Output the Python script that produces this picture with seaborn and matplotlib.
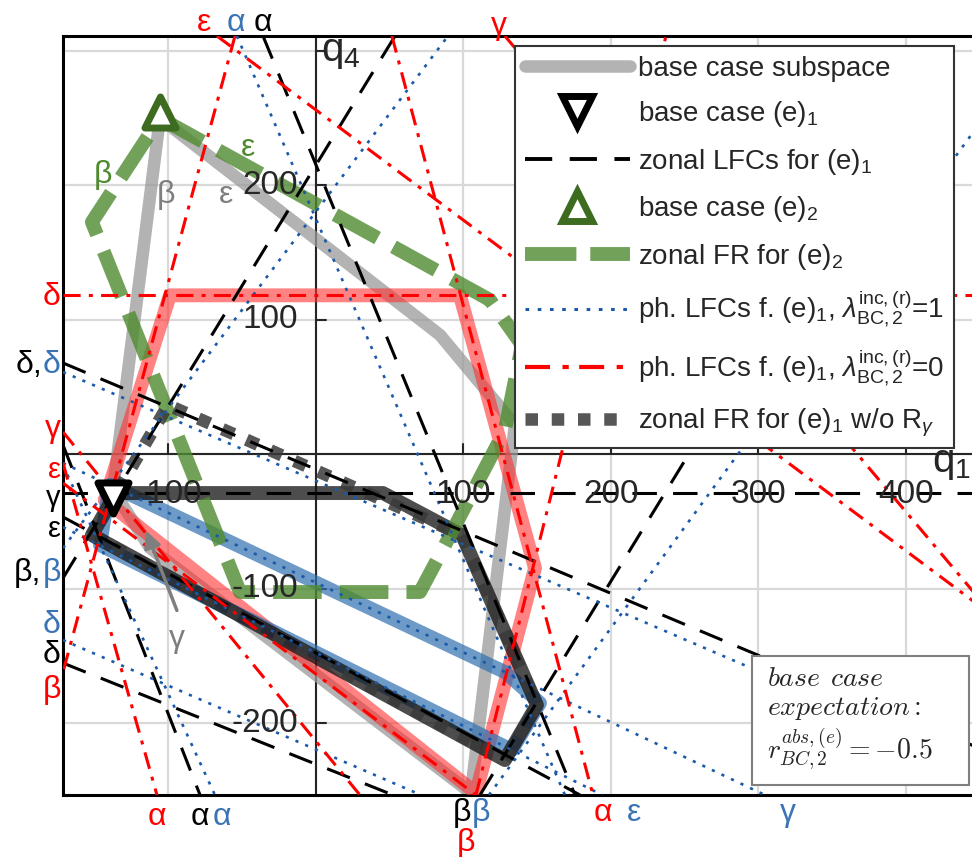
import matplotlib
matplotlib.use("Agg")
import matplotlib.pyplot as plt
import seaborn as sns
from matplotlib.lines import Line2D
from matplotlib.patches import Rectangle

sns.set_theme(style="white")
plt.rcParams["font.family"] = ["Liberation Sans", "DejaVu Sans"]
plt.rcParams["mathtext.fontset"] = "custom"
plt.rcParams["mathtext.rm"] = "Liberation Sans"
plt.rcParams["mathtext.it"] = "Liberation Sans:italic"
plt.rcParams["mathtext.bf"] = "Liberation Sans:bold"

# plot range (q1 horizontal, q4 vertical)
q1_lim = (-171.5, 453.6)
q4_lim = (-253.5, 310.8)
q1_ticks = [-100, 100, 200, 300, 400]
q4_ticks = [-200, -100, 100, 200]

# base case points
base_case_e1 = (-137.6, -32.7)
base_case_e2 = (-105.8, 254.0)

# line segments (q1_a, q4_a, q1_b, q4_b)
zonal_lfcs = [
    (-35.9, 310.8, 175.6, -253.5),
    (-171.5, 6.7, -78.6, -253.5),
    (111.2, -253.5, 426.4, 310.8),
    (-171.5, -92.2, 53.6, 310.8),
    (-171.5, -29.0, 453.6, -29.0),
    (-171.5, 67.7, 453.6, -220.5),
    (-171.5, -155.4, 52.2, -253.5),
    (-171.5, -46.8, 179.0, -253.5),
]
ph_lfcs_lam1 = [
    (-53.6, 310.8, 168.8, -253.5),
    (-171.5, -8.2, -68.5, -253.5),
    (117.3, -253.5, 453.6, 251.3),
    (-171.5, -69.9, 89.5, 310.8),
    (-171.5, -6.7, 304.4, -253.5),
    (-171.5, 61.0, 453.6, -233.9),
    (-171.5, -138.3, 71.2, -253.5),
    (-171.5, -54.3, 194.2, -253.5),
]
ph_lfcs_lam0 = [
    (51.5, 310.8, 187.8, -253.5),
    (-171.5, -6.7, -107.8, -253.5),
    (-54.9, 310.8, -171.5, -162.1),
    (108.5, -253.5, 237.3, 310.8),
    (128.1, 310.8, 453.6, -112.7),
    (-171.5, 16.4, 29.8, -253.5),
    (-171.5, 118.0, 453.6, 118.0),
    (-67.1, 310.8, 453.6, -115.9),
    (-171.5, -21.6, 108.5, -253.5),
]

# feasible regions / subspace outlines
subspace_q1 = [-105.8, 84.1, 134.9, 105.1, -112.5, -137.6, -105.8]
subspace_q4 = [249.8, 88.5, 21.6, -252.0, -69.9, -26.8, 249.8]
red_fr_q1 = [-143.1, -99.0, 97.6, 148.5, 108.5, -143.1]
red_fr_q4 = [-34.2, 118.0, 118.0, -84.8, -252.0, -34.2]
blue_fr_q1 = [-139.7, 128.1, 151.9, 132.9, -146.4, -139.7]
blue_fr_q4 = [-23.0, -162.1, -185.1, -220.1, -67.7, -23.0]
black_fr_q1 = [-135.6, 45.4, 99.0, 149.8, 128.1, -151.9, -135.6]
black_fr_q4 = [-29.0, -29.0, -60.2, -186.6, -227.5, -60.2, -29.0]
no_rgamma_q1 = [-151.9, -100.3, 99.0, 149.8, 128.1, -151.9]
no_rgamma_q4 = [-60.2, 36.4, -60.2, -186.6, -227.5, -60.2]
green_fr_q1 = [-105.8, 118.0, 139.7, 128.1, 87.5, 70.5, -51.5, -151.9, -105.8]
green_fr_q4 = [249.8, 114.5, 81.0, 17.8, -67.7, -102.6, -102.6, 172.5, 249.8]

RED = "#ff0000"
BLUE_LINE = "#1a5aa8"
BLUE_TXT = "#3a74b5"
GREEN = "#4f8a2f"
GREEN_DARK = "#3d6b1f"
GREY = "#9a9a9a"

# edge labels (text, color, q1, q4, ha, size)
edge_labels = [
    ("ε", RED, -75.9, 320.7, "center", 23),
    ("α", BLUE_TXT, -54.2, 320.7, "center", 23),
    ("α", "black", -35.9, 320.7, "center", 23),
    ("γ", RED, 124.1, 318.5, "center", 23),
    ("δ", RED, -172.9, 116.7, "right", 23),
    ("δ", BLUE_TXT, -172.9, 66.2, "right", 23),
    ("δ,", "black", -185.5, 66.2, "right", 23),
    ("γ", RED, -172.9, 18.5, "right", 23),
    ("ε", RED, -172.9, -12.0, "right", 21),
    ("γ", "black", -172.9, -33.0, "right", 21),
    ("ε", "black", -172.9, -56.0, "right", 21),
    ("β", BLUE_TXT, -172.9, -88.5, "right", 23),
    ("β,", "black", -186.5, -88.5, "right", 23),
    ("δ", BLUE_TXT, -172.9, -127.1, "right", 23),
    ("δ", "black", -172.9, -149.4, "right", 23),
    ("β", RED, -172.9, -175.5, "right", 23),
    ("α", RED, -107.8, -269.9, "center", 23),
    ("α", "black", -78.6, -269.9, "center", 23),
    ("α", BLUE_TXT, -63.7, -269.9, "center", 23),
    ("β", "black", 99.0, -266.9, "center", 23),
    ("β", BLUE_TXT, 111.9, -266.9, "center", 23),
    ("β", RED, 101.7, -289.0, "center", 23),
    ("α", RED, 194.6, -266.9, "center", 23),
    ("ε", BLUE_TXT, 215.6, -266.9, "center", 23),
    ("γ", BLUE_TXT, 320.0, -266.9, "center", 23),
    ("β", GREEN, -144.4, 207.4, "center", 23),
    ("β", "#7f7f7f", -101.7, 192.6, "center", 23),
    ("ε", GREEN, -46.1, 227.5, "center", 23),
    ("ε", "#7f7f7f", -61.0, 192.6, "center", 23),
    ("γ", "#7f7f7f", -94.2, -137.5, "center", 23),
]

fig = plt.figure(figsize=(9.72, 8.57), dpi=100)
ax = fig.add_axes([63 / 972, 62 / 857, 922 / 972, 759 / 857])


def draw_path(q1, q4, **kw):
    sns.lineplot(x=q1, y=q4, sort=False, estimator=None, ax=ax, legend=False, **kw)


# thick regions
draw_path(subspace_q1, subspace_q4, color=GREY, lw=9, alpha=0.75, zorder=2)
draw_path(red_fr_q1, red_fr_q4, color="#ff3030", lw=10, alpha=0.6, zorder=3)
draw_path(blue_fr_q1, blue_fr_q4, color="#2f6fb0", lw=10, alpha=0.7, zorder=3)
draw_path(black_fr_q1, black_fr_q4, color="#111111", lw=10, alpha=0.75, zorder=3)
draw_path(green_fr_q1, green_fr_q4, color=GREEN, lw=10, alpha=0.8,
          linestyle=(0, (3.5, 1.3)), dash_capstyle="butt", zorder=4)
draw_path(no_rgamma_q1, no_rgamma_q4, color="#3a3a3a", lw=9, alpha=0.85,
          linestyle=(0, (1, 1.1)), dash_capstyle="butt", zorder=4.5)

# thin constraint lines
for a1, b1, a2, b2 in zonal_lfcs:
    draw_path([a1, a2], [b1, b2], color="black", lw=2.2,
              linestyle=(0, (8, 5.3)), zorder=5)
for a1, b1, a2, b2 in ph_lfcs_lam1:
    draw_path([a1, a2], [b1, b2], color=BLUE_LINE, lw=1.9,
              linestyle=(0, (1.2, 2.8)), zorder=5)
for a1, b1, a2, b2 in ph_lfcs_lam0:
    draw_path([a1, a2], [b1, b2], color=RED, lw=2.2,
              linestyle=(0, (5.6, 2.7, 1.3, 2.7)), zorder=5)

# base case markers
sns.scatterplot(x=[base_case_e1[0]], y=[base_case_e1[1]], marker="v", s=500,
                color="white", edgecolor="black", linewidth=5, zorder=6, ax=ax)
sns.scatterplot(x=[base_case_e2[0]], y=[base_case_e2[1]], marker="^", s=500,
                color="white", edgecolor=GREEN_DARK, linewidth=5, zorder=6, ax=ax)

ax.set_xlim(*q1_lim)
ax.set_ylim(*q4_lim)
ax.set_xticks(range(-100, 500, 100))
ax.set_yticks(range(-200, 400, 100))
ax.grid(True, color="#d9d9d9", lw=1.6, zorder=0)
ax.set_axisbelow(True)
ax.tick_params(labelbottom=False, labelleft=False, length=0)
ax.set_xlabel("")
ax.set_ylabel("")
for sp in ax.spines.values():
    sp.set_color("black")
    sp.set_linewidth(2.2)

# axes through the origin with their ticks
ax.axhline(0, color="#262626", lw=1.5, zorder=1.5)
ax.axvline(0, color="#262626", lw=1.5, zorder=1.5)
for t in q1_ticks:
    ax.plot([t, t], [0, 7.5], color="#262626", lw=1.5, zorder=1.5)
    ax.text(t, -30, str(t), ha="center", va="center", fontsize=24, color="#262626", zorder=7)
for t in q4_ticks + [300]:
    ax.plot([0, 7], [t, t], color="#262626", lw=1.5, zorder=1.5)
for t in q4_ticks:
    ax.text(-12.2, t, str(t), ha="right", va="center", fontsize=24, color="#262626", zorder=7)
ax.text(3.5, 292, r"q$_4$", ha="left", va="baseline", fontsize=29, color="#262626", zorder=7)
ax.text(417.5, -13, r"q$_1$", ha="left", va="baseline", fontsize=29, color="#262626", zorder=7)

for txt, col, x, y, ha, size in edge_labels:
    ax.text(x, y, txt, color=col, ha=ha, va="center", fontsize=size, clip_on=False, zorder=7)

ax.annotate("", xy=(-115.9, -55.0), xytext=(-93.6, -118.2),
            arrowprops=dict(arrowstyle="-|>", color="#7f7f7f", lw=2.5, mutation_scale=25),
            zorder=7)

handles = [
    Line2D([], [], color=GREY, lw=9, alpha=0.75),
    Line2D([], [], ls="none", marker="v", ms=22, mew=5, mec="black", mfc="white"),
    Line2D([], [], color="black", lw=2.8, ls=(0, (7, 4.5))),
    Line2D([], [], ls="none", marker="^", ms=22, mew=5, mec=GREEN_DARK, mfc="white"),
    Line2D([], [], color=GREEN, lw=10, alpha=0.8, ls=(0, (3.7, 1))),
    Line2D([], [], color=BLUE_LINE, lw=2.2, ls=(0, (1.2, 2.8))),
    Line2D([], [], color=RED, lw=3, ls=(0, (6, 3, 1.5, 2.5))),
    Line2D([], [], color="#3a3a3a", lw=9, alpha=0.85, ls=(0, (1, 1.1))),
]
labels = [
    "base case subspace",
    r"base case (e)$_1$",
    r"zonal LFCs for (e)$_1$",
    r"base case (e)$_2$",
    r"zonal FR for (e)$_2$",
    r"ph. LFCs f. (e)$_1$, $\lambda^{\mathrm{inc,(r)}}_{\mathrm{BC,2}}$=1",
    r"ph. LFCs f. (e)$_1$, $\lambda^{\mathrm{inc,(r)}}_{\mathrm{BC,2}}$=0",
    r"zonal FR for (e)$_1$ w/o R$_\gamma$",
]
leg = ax.legend(handles, labels, loc="upper left", bbox_to_anchor=(0.490, 0.987),
                borderaxespad=0, fontsize=20, handlelength=3.8, handletextpad=0.3,
                labelspacing=0.63, borderpad=0.35, fancybox=False, framealpha=1,
                edgecolor="#333333")
leg.get_frame().set_linewidth(1.5)
leg.set_zorder(8)

# expectation box
ax.add_patch(Rectangle((0.747, 0.0132), 0.2354, 0.170, transform=ax.transAxes,
                       facecolor="white", edgecolor="#7f7f7f", lw=1.5, zorder=8))
ax.text(0.764, 0.1440, r"$base\;\,case$", transform=ax.transAxes, fontsize=20,
        math_fontfamily="cm", va="baseline", zorder=9)
ax.text(0.764, 0.1050, r"$expectation:$", transform=ax.transAxes, fontsize=20,
        math_fontfamily="cm", va="baseline", zorder=9)
ax.text(0.764, 0.0480, r"$r^{abs,(e)}_{BC,2}=-0.5$", transform=ax.transAxes, fontsize=20,
        math_fontfamily="cm", va="baseline", zorder=9)

fig.savefig("out.png", dpi=100)
